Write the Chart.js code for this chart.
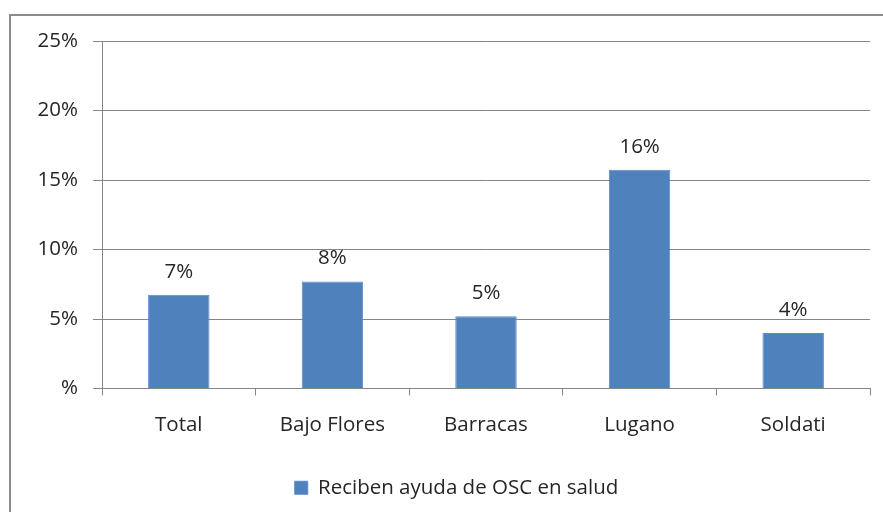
<!DOCTYPE html>
<html><head><meta charset="utf-8">
<script src="https://cdn.jsdelivr.net/npm/chart.js@4"></script>
<style>html,body{margin:0;padding:0;background:#fff}#wrap{width:883px;height:512px;position:relative}</style>
</head><body><div id="wrap"><canvas id="c" width="883" height="512"></canvas></div>
<script>
const categories = ["Total","Bajo Flores","Barracas","Lugano","Soldati"];
const values = [6.74, 7.69, 5.19, 15.74, 4.0];
const valueLabels = ["7%","8%","5%","16%","4%"];
const yTickLabels = ["%","5%","10%","15%","20%","25%"];
const seriesName = "Reciben ayuda de OSC en salud";

const FONT = "'Open Sans', sans-serif";
const FS = 20.5;
const TXT = '#262626';
const GRID = '#868686';

const framePlugin = {
  id: 'frame',
  beforeDraw(chart) {
    const ctx = chart.ctx;
    ctx.save();
    ctx.fillStyle = '#fff';
    ctx.fillRect(0,0,chart.width,chart.height);
    ctx.strokeStyle = '#8c8c8c';
    ctx.lineWidth = 2;
    ctx.strokeRect(10, 15, 1000, 1000);
    ctx.restore();
  }
};
const labelPlugin = {
  id: 'vlabels',
  afterDatasetsDraw(chart) {
    const ctx = chart.ctx;
    const meta = chart.getDatasetMeta(0);
    ctx.save();
    ctx.font = FS + "px " + FONT;
    ctx.fillStyle = TXT;
    ctx.textAlign = 'center';
    ctx.textBaseline = 'middle';
    meta.data.forEach((el, i) => {
      ctx.fillText(valueLabels[i], el.x, el.y - 23);
    });
    ctx.restore();
  }
};

new Chart(document.getElementById('c'), {
  type: 'bar',
  data: {
    labels: categories,
    datasets: [{
      label: seriesName,
      data: values,
      backgroundColor: '#4F81BD',
      borderColor: '#5A8ACB',
      borderWidth: 1,
      categoryPercentage: 1,
      barPercentage: 0.4
    }]
  },
  options: {
    responsive: false,
    animation: false,
    devicePixelRatio: 1,
    layout: { padding: { top: 41, right: 0, left: 30, bottom: 4 } },
    plugins: {
      legend: {
        position: 'bottom',
        labels: {
          font: { family: FONT, size: FS },
          color: TXT,
          boxWidth: 13,
          boxHeight: 13,
          padding: 10
        }
      },
      tooltip: { enabled: false }
    },
    scales: {
      x: {
        offset: true,
        grid: { display: true, drawOnChartArea: false, drawTicks: true, tickLength: 7, offset: true, color: GRID },
        border: { display: true, color: GRID },
        ticks: { font: { family: FONT, size: FS }, color: TXT, padding: 17, maxRotation: 0 },
        afterFit(s) { s.height = 79; }
      },
      y: {
        min: 0, max: 25,
        grid: { color: GRID, tickLength: 9, drawTicks: true },
        border: { display: true, color: GRID },
        ticks: {
          stepSize: 5,
          font: { family: FONT, size: FS },
          color: TXT,
          padding: 15,
          callback: (v, i) => yTickLabels[i]
        },
        afterFit(s) { s.width = 72; }
      },
      yRight: {
        position: 'right',
        min: 0, max: 25,
        grid: { display: false },
        border: { display: false },
        ticks: { display: false },
        afterFit(s) { s.width = 13; }
      }
    }
  },
  plugins: [framePlugin, labelPlugin]
});
</script></body></html>
